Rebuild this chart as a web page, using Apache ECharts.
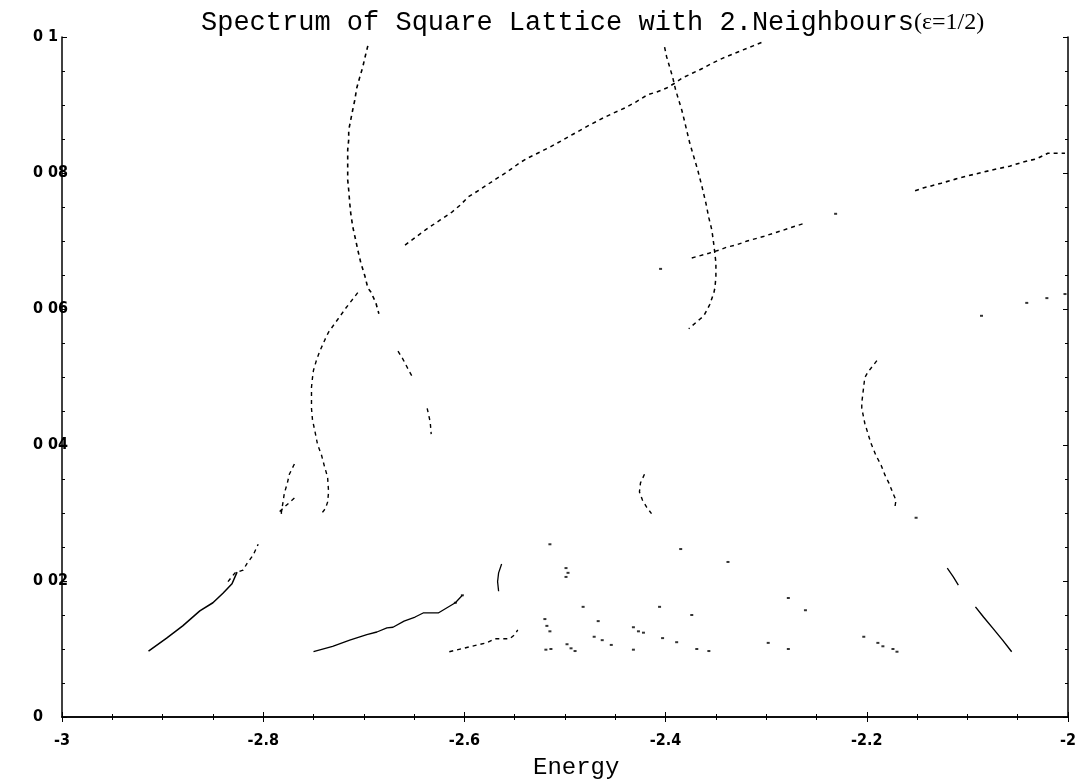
<!DOCTYPE html>
<html>
<head>
<meta charset="utf-8">
<script src="https://cdn.jsdelivr.net/npm/echarts@6/dist/echarts.min.js"></script>
<style>
  html, body { margin: 0; padding: 0; background: #fff; }
  #chart { width: 1088px; height: 784px; }
</style>
</head>
<body>
<div id="chart"></div>
<script>
// Tick labels (printed without decimal points on the vertical axis)
const xTickLabels = ['-3', '-2.8', '-2.6', '-2.4', '-2.2', '-2'];
const yTickLabels = ['0', '0 02', '0 04', '0 06', '0 08', '0 1'];

// Spectrum branches, [energy, y]
const upperArc = [
  [-2.696, 0.0987], [-2.699, 0.0969], [-2.701, 0.0956], [-2.704, 0.0941], [-2.707, 0.0925],
  [-2.709, 0.0907], [-2.711, 0.0893], [-2.713, 0.0878], [-2.715, 0.0863], [-2.715, 0.0849],
  [-2.716, 0.0834], [-2.716, 0.0819], [-2.716, 0.0804], [-2.716, 0.0790], [-2.715, 0.0775],
  [-2.714, 0.0756], [-2.713, 0.0741], [-2.711, 0.0721], [-2.708, 0.0701], [-2.706, 0.0687],
  [-2.703, 0.0668], [-2.699, 0.0649], [-2.696, 0.0631], [-2.693, 0.0625], [-2.688, 0.0609],
  [-2.685, 0.0593]
];
const lambdaTail = [
  [-2.666, 0.0538], [-2.661, 0.0526], [-2.655, 0.0509], [-2.652, 0.0501]
];
const lambdaFoot = [
  [-2.637, 0.0454], [-2.634, 0.0434], [-2.633, 0.0416]
];
const sCurve = [
  [-2.706, 0.0624], [-2.717, 0.0603], [-2.735, 0.0566], [-2.738, 0.0557], [-2.744, 0.0537],
  [-2.747, 0.0525], [-2.750, 0.0510], [-2.751, 0.0499], [-2.752, 0.0485], [-2.752, 0.0454],
  [-2.751, 0.0437], [-2.748, 0.0416], [-2.746, 0.0401], [-2.742, 0.0385], [-2.739, 0.0368],
  [-2.736, 0.0353], [-2.735, 0.0331], [-2.736, 0.0316], [-2.738, 0.0307], [-2.742, 0.0299]
];
const leftFork = [
  [-2.769, 0.0372], [-2.774, 0.0357], [-2.776, 0.0344], [-2.779, 0.0329], [-2.780, 0.0319],
  [-2.782, 0.0300], [-2.781, 0.0293]
];
const leftForkSide = [
  [-2.769, 0.0322], [-2.778, 0.0310], [-2.785, 0.0300]
];
const lowerLeftLine = [
  [-2.914, 0.0097], [-2.896, 0.0116], [-2.880, 0.0134], [-2.863, 0.0156], [-2.850, 0.0168],
  [-2.840, 0.0182], [-2.831, 0.0196], [-2.826, 0.0213]
];
const lowerLeftBranch = [
  [-2.835, 0.0199], [-2.828, 0.0212], [-2.820, 0.0216], [-2.816, 0.0226], [-2.810, 0.0238],
  [-2.805, 0.0254]
];
const midLowerLine = [
  [-2.750, 0.0096], [-2.731, 0.0104], [-2.714, 0.0113], [-2.697, 0.0121], [-2.687, 0.0125],
  [-2.677, 0.0131], [-2.671, 0.0132], [-2.660, 0.0141], [-2.649, 0.0147], [-2.641, 0.0153],
  [-2.626, 0.0153], [-2.609, 0.0168], [-2.602, 0.0179]
];
const rightLowerLine = [
  [-2.615, 0.0096], [-2.601, 0.0101], [-2.587, 0.0106], [-2.578, 0.0109], [-2.570, 0.0115],
  [-2.555, 0.0115], [-2.550, 0.0121], [-2.547, 0.0128]
];
const centreParen = [
  [-2.563, 0.0225], [-2.566, 0.0212], [-2.567, 0.0199], [-2.566, 0.0185]
];
const crossingCurve = [
  [-2.401, 0.0985], [-2.399, 0.0971], [-2.396, 0.0956], [-2.393, 0.0941], [-2.390, 0.0922],
  [-2.384, 0.0893], [-2.381, 0.0875], [-2.376, 0.0844], [-2.371, 0.0819], [-2.368, 0.0804],
  [-2.364, 0.0781], [-2.360, 0.0756], [-2.357, 0.0734], [-2.354, 0.0716], [-2.352, 0.0694],
  [-2.350, 0.0668], [-2.350, 0.0647], [-2.351, 0.0631], [-2.352, 0.0624], [-2.356, 0.0607],
  [-2.358, 0.0601], [-2.362, 0.0590], [-2.366, 0.0585], [-2.377, 0.0571]
];
const risingLine = [
  [-2.659, 0.0694], [-2.639, 0.0716], [-2.624, 0.0731], [-2.612, 0.0743], [-2.604, 0.0753],
  [-2.596, 0.0765], [-2.584, 0.0776], [-2.570, 0.0790], [-2.558, 0.0801], [-2.545, 0.0815],
  [-2.537, 0.0822], [-2.515, 0.0838], [-2.492, 0.0857], [-2.475, 0.0871], [-2.462, 0.0881],
  [-2.452, 0.0888], [-2.440, 0.0896], [-2.430, 0.0904], [-2.418, 0.0915], [-2.409, 0.0919],
  [-2.399, 0.0925], [-2.391, 0.0932], [-2.383, 0.0940], [-2.373, 0.0947], [-2.363, 0.0954],
  [-2.353, 0.0962], [-2.343, 0.0969], [-2.333, 0.0975], [-2.323, 0.0981], [-2.313, 0.0987],
  [-2.303, 0.0993]
];
const lowerRisingLine = [
  [-2.374, 0.0675], [-2.357, 0.0682], [-2.346, 0.0687], [-2.339, 0.0691], [-2.330, 0.0694],
  [-2.319, 0.0700], [-2.302, 0.0707], [-2.283, 0.0716], [-2.273, 0.0721], [-2.262, 0.0726]
];
const farRightLine = [
  [-2.152, 0.0774], [-2.144, 0.0778], [-2.136, 0.0781], [-2.126, 0.0785], [-2.112, 0.0791],
  [-2.099, 0.0796], [-2.085, 0.0801], [-2.071, 0.0806], [-2.058, 0.0810], [-2.045, 0.0816],
  [-2.031, 0.0821], [-2.020, 0.0829], [-2.003, 0.0829]
];
const rightArc = [
  [-2.190, 0.0524], [-2.199, 0.0507], [-2.202, 0.0499], [-2.205, 0.0462], [-2.205, 0.0454],
  [-2.202, 0.0432], [-2.196, 0.0403], [-2.191, 0.0385], [-2.186, 0.0371], [-2.182, 0.0356],
  [-2.178, 0.0344], [-2.174, 0.0329], [-2.171, 0.0319], [-2.172, 0.0309]
];
const centreArc = [
  [-2.421, 0.0357], [-2.425, 0.0344], [-2.426, 0.0331], [-2.423, 0.0319], [-2.419, 0.0309],
  [-2.414, 0.0299]
];
const rightSteep = [
  [-2.092, 0.0162], [-2.084, 0.0147], [-2.075, 0.0131], [-2.065, 0.0113], [-2.056, 0.0096]
];
const rightSteepUpper = [
  [-2.120, 0.0219], [-2.114, 0.0206], [-2.109, 0.0194]
];
// Scattered single levels
const isolated = [
  [-2.405, 0.0659], [-2.231, 0.0740], [-2.086, 0.0590], [-2.041, 0.0609], [-2.021, 0.0616],
  [-2.003, 0.0622], [-2.151, 0.0293], [-2.515, 0.0254], [-2.499, 0.0219], [-2.497, 0.0212],
  [-2.499, 0.0206], [-2.482, 0.0162], [-2.520, 0.0144], [-2.518, 0.0134], [-2.515, 0.0126],
  [-2.519, 0.0099], [-2.514, 0.0100], [-2.498, 0.0107], [-2.494, 0.0101], [-2.490, 0.0097],
  [-2.467, 0.0141], [-2.471, 0.0118], [-2.463, 0.0113], [-2.454, 0.0106], [-2.432, 0.0132],
  [-2.427, 0.0126], [-2.422, 0.0124], [-2.432, 0.0099], [-2.406, 0.0162], [-2.403, 0.0116],
  [-2.389, 0.0110], [-2.369, 0.0100], [-2.357, 0.0097], [-2.385, 0.0247], [-2.374, 0.0150],
  [-2.338, 0.0228], [-2.298, 0.0109], [-2.278, 0.0175], [-2.261, 0.0157], [-2.278, 0.0100],
  [-2.203, 0.0118], [-2.189, 0.0109], [-2.184, 0.0104], [-2.174, 0.0100], [-2.170, 0.0096],
  [-2.609, 0.0168], [-2.602, 0.0179]
];

const INK = '#000';
function curve(data, dashed, width) {
  return {
    type: 'line',
    data: data,
    showSymbol: false,
    silent: true,
    animation: false,
    lineStyle: { color: INK, width: width || 1.4, type: dashed ? [4, 4] : 'solid' }
  };
}

const tickFont = {
  fontFamily: '"Liberation Sans Narrow", "DejaVu Sans Condensed", sans-serif',
  fontWeight: 'bold',
  fontSize: 16,
  color: INK
};

function xAxisCfg(pos, labels) {
  return {
    type: 'value', position: pos, min: -3, max: -2, interval: 0.2,
    axisLine: { show: true, lineStyle: { color: INK, width: 1.5 } },
    axisTick: { show: true, inside: true, length: 5, lineStyle: { color: INK } },
    minorTick: { show: true, splitNumber: 4, length: 3, lineStyle: { color: INK } },
    splitLine: { show: false },
    axisLabel: labels ? Object.assign({
      margin: 16,
      formatter: v => xTickLabels[Math.round((v + 3) / 0.2)]
    }, tickFont) : { show: false }
  };
}
function yAxisCfg(pos, labels) {
  return {
    type: 'value', position: pos, min: 0, max: 0.1, interval: 0.02,
    axisLine: { show: true, lineStyle: { color: INK, width: 1.5 } },
    axisTick: { show: true, inside: true, length: 5, lineStyle: { color: INK } },
    minorTick: { show: true, splitNumber: 4, length: 3, lineStyle: { color: INK } },
    splitLine: { show: false },
    axisLabel: labels ? Object.assign({
      margin: 29, align: 'left',
      formatter: v => yTickLabels[Math.round(v / 0.02)]
    }, tickFont) : { show: false }
  };
}

const chart = echarts.init(document.getElementById('chart'), null, { renderer: 'canvas' });
chart.setOption({
  backgroundColor: '#fff',
  animation: false,
  title: {
    text: '{m|Spectrum of Square Lattice with 2.Neighbours}{s|(ε=1/2)}',
    left: 196, top: 4,
    textStyle: {
      fontWeight: 'normal',
      rich: {
        m: { fontFamily: '"Liberation Mono", monospace', fontSize: 27, fontWeight: 'normal', color: INK },
        s: { fontFamily: '"Liberation Serif", serif', fontSize: 24, fontWeight: 'normal', color: INK }
      }
    }
  },
  grid: { left: 62, right: 20, top: 37, bottom: 67 },
  xAxis: [xAxisCfg('bottom', true), xAxisCfg('top', false)],
  yAxis: [yAxisCfg('left', true), yAxisCfg('right', false)],
  graphic: [{
    type: 'text', left: 533, top: 756,
    style: { text: 'Energy', font: '24px "Liberation Mono", monospace', fill: INK }
  }],
  series: [
    curve(upperArc, true, 1.6),
    curve(lambdaTail, true),
    curve(lambdaFoot, true),
    curve(sCurve, true),
    curve(leftFork, true),
    curve(leftForkSide, true),
    curve(lowerLeftLine, false, 1.5),
    curve(lowerLeftBranch, true),
    curve(midLowerLine, false, 1.3),
    curve(rightLowerLine, true),
    curve(centreParen, false, 1.3),
    curve(crossingCurve, true, 1.5),
    curve(risingLine, true, 1.5),
    curve(lowerRisingLine, true),
    curve(farRightLine, true, 1.6),
    curve(rightArc, true),
    curve(centreArc, true),
    curve(rightSteep, false, 1.4),
    curve(rightSteepUpper, false, 1.3),
    {
      type: 'scatter', data: isolated, symbol: 'rect', symbolSize: [3, 2],
      itemStyle: { color: INK }, silent: true, animation: false
    }
  ]
});
</script>
</body>
</html>
